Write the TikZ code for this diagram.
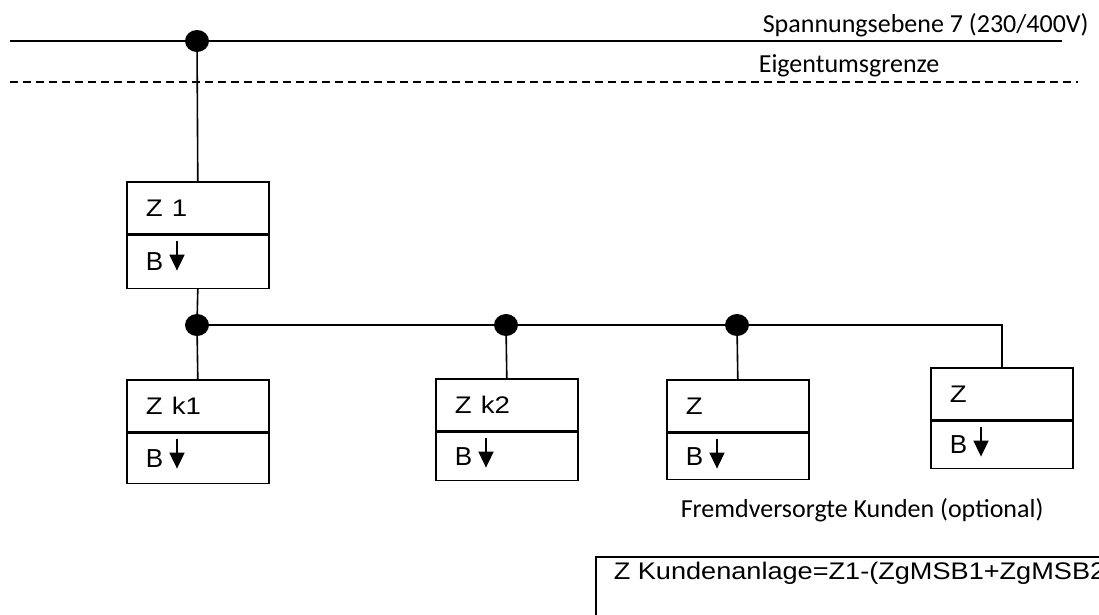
\documentclass[tikz,border=0pt]{standalone}
\usepackage{fontspec}
\usepackage{graphicx}
\setmainfont{Liberation Sans}
\newfontfamily\calfont{Carlito}
\usetikzlibrary{positioning,shapes.geometric,arrows.meta}
\newcommand{\breit}[2][1.15]{\scalebox{#1}[1]{#2}}
\tikzset{%
  meter/.style={
    draw,
    line width=1.6pt,
    minimum width=142pt,
    minimum height=52pt,
    inner xsep=19pt,
    text width=104pt,
    align=left,
    font=\fontsize{24}{28}\selectfont
  },
  bfeld/.style={
    meter,
    font=\fontsize{26}{30}\selectfont
  },
  junction/.style={
    ellipse,
    fill=black,
    minimum width=24pt,
    minimum height=22pt,
    inner sep=0pt
  },
}

\begin{document}
\begin{tikzpicture}[x=1pt,y=-1pt,line width=1.6pt]
  \useasboundingbox (0,0) rectangle (1099,614);
  \clip (0,0) rectangle (1099,614);
  \tikzstyle{calib}=[font=\calfont\fontsize{26}{30}\selectfont,inner sep=0pt]
  \tikzstyle{grenze}=[line width=1.5pt,dash pattern=on 8pt off 5pt]
  \tikzstyle{barrow}=[line width=1.7pt,-{Triangle[length=16pt,width=15pt]}]

  % Netz und Eigentumsgrenze
  \coordinate (netzL) at (10,41);
  \coordinate (netzR) at (1062,41);
  \coordinate (grenzeL) at (10,82);
  \coordinate (grenzeR) at (1078,82);
  \node[calib,anchor=base west] (ebene) at (762,32) {Spannungsebene 7 (230/400V)};
  \node[calib,anchor=base west] (eigentum) at (758,72) {Eigentumsgrenze};

  \node[junction] (d1) at (197,41) {};
  \node[meter,anchor=north west] (z1) at (126,181) {\breit{Z 1}};
  \node[bfeld,below=0pt of z1,minimum height=53pt] (z1b) {B};

  % Kundenanlage
  \node[junction] (d2) at (197,325) {};
  \node[junction] (d3) at (506,325) {};
  \node[junction] (d4) at (737,325) {};

  \node[meter,anchor=north west] (zk1) at (126,379) {\breit{Z k1}};
  \node[bfeld,below=0pt of zk1,minimum height=50pt] (zk1b) {B};
  \node[meter,anchor=north west] (zk2) at (435,378) {\breit{Z k2}};
  \node[bfeld,below=0pt of zk2,minimum height=48pt] (zk2b) {B};
  \node[meter,anchor=north west] (zfa) at (666,379) {\breit{Z}};
  \node[bfeld,below=0pt of zfa,minimum height=46pt] (zfab) {B};
  \node[meter,anchor=north west] (zfb) at (930,367) {\breit{Z}};
  \node[bfeld,below=0pt of zfb,minimum height=47pt] (zfbb) {B};

  \node[calib,anchor=base west] (fremd) at (680,517) {Fremdversorgte Kunden (optional)};

  \node[draw,anchor=north west,minimum width=600pt,minimum height=100pt] (formel) at (595,556) {};
  \node[anchor=west,inner sep=0pt,font=\fontsize{24}{28}\selectfont] (formeltext)
    at ([shift={(18,17)}]formel.north west) {\breit[1.13]{Z Kundenanlage=Z1-(ZgMSB1+ZgMSB2}};

  \draw (netzL) -- (netzR);
  \draw[grenze] (grenzeL) -- (grenzeR);
  \draw (d1.center) -- (z1.north);
  \draw (z1b.south) -- (d2.center);
  \draw (d2.center) -- (d2.center -| zfb.north) -- (zfb.north);
  \draw (d2.center) -- (zk1.north);
  \draw (d3.center) -- (zk2.north);
  \draw (d4.center) -- (zfa.north);

  \foreach \m in {z1b,zk1b,zk2b,zfab,zfbb}
    \draw[barrow] ([shift={(51,6)}]\m.north west) -- ++(0,30);
\end{tikzpicture}
\end{document}
